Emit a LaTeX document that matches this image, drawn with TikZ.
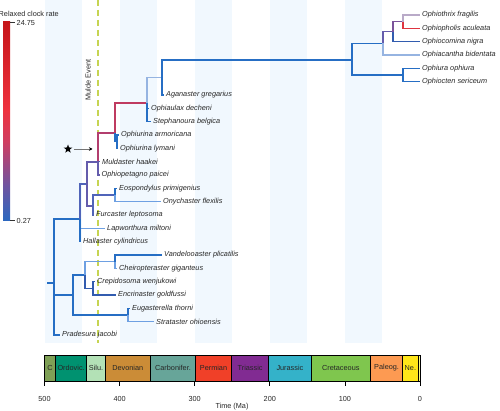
\documentclass[tikz,border=0pt]{standalone}
\usepackage{fontspec}
\setmainfont{Liberation Sans}
\usetikzlibrary{shapes.geometric,arrows.meta}
\definecolor{cblue}{RGB}{38,110,196}
\definecolor{cdblue}{RGB}{50,92,175}
\definecolor{clight}{RGB}{110,160,226}
\definecolor{cpale}{RGB}{150,180,225}
\definecolor{cpurp}{RGB}{100,92,172}
\definecolor{cpb}{RGB}{80,100,185}
\definecolor{cred}{RGB}{222,52,64}
\definecolor{credp}{RGB}{178,62,110}
\definecolor{cgp}{RGB}{185,170,200}
\definecolor{cstripe}{RGB}{241,248,254}
\definecolor{cmulde}{RGB}{198,212,82}
\definecolor{cbA}{RGB}{42,104,192}
\definecolor{cbB}{RGB}{112,84,160}
\definecolor{cbC}{RGB}{208,62,96}
\definecolor{cbD}{RGB}{238,50,62}
\definecolor{cbE}{RGB}{198,22,26}
\definecolor{pCam}{RGB}{127,160,86}
\definecolor{pOrd}{RGB}{0,146,112}
\definecolor{pSil}{RGB}{179,225,182}
\definecolor{pDev}{RGB}{203,140,55}
\definecolor{pCar}{RGB}{103,165,153}
\definecolor{pPer}{RGB}{240,64,40}
\definecolor{pTri}{RGB}{129,43,146}
\definecolor{pJur}{RGB}{52,178,201}
\definecolor{pCre}{RGB}{127,198,78}
\definecolor{pPal}{RGB}{253,154,82}
\definecolor{pNeo}{RGB}{255,230,25}
\definecolor{pQua}{RGB}{249,249,127}
\pgfdeclareverticalshading{ratebar}{100bp}{color(0bp)=(cbA); color(25bp)=(cbA); color(34bp)=(cbB); color(45bp)=(cbC); color(53bp)=(cbD); color(75bp)=(cbE); color(100bp)=(cbE)}
\tikzset{
  br/.style={line width=1.3pt},
  tip/.style={font=\fontsize{7.3}{8.5}\selectfont\itshape, anchor=west, inner xsep=2pt, inner ysep=0pt, text=black!85},
  lab/.style={font=\fontsize{7.3}{8.5}\selectfont, inner sep=0pt, text=black!85},
  per/.style={draw=black, line width=0.6pt},
  tickline/.style={draw=black, line width=0.7pt},
  muldeline/.style={draw=cmulde, line width=2pt, dash pattern=on 6pt off 4pt},
}
\begin{document}
\begin{tikzpicture}[x=1pt,y=-1pt]
\useasboundingbox (0,0) rectangle (500,411);
% background stripes (50 Ma bands)
\foreach \a/\b in {44.5/82.05,119.6/157.15,194.7/232.25,269.8/307.35,344.9/382.45}
  \fill[cstripe] (\a,0) rectangle (\b,343);
% Mulde event line
\coordinate (mtop) at (97.5,0);
\coordinate (mbot) at (97.5,343);
\path[muldeline] (mtop) -- (mbot);
\node[lab, rotate=90] (mlabel) at (88,80) {Mulde Event};

% legend
\node[lab, anchor=west] (legtitle) at (-1.5,13.5) {Relaxed clock rate};
\shade[shading=ratebar] (3,22) rectangle (10,221);
\coordinate (bt1) at (10,22.5); \coordinate (bt2) at (15,22.5);
\coordinate (bb1) at (10,220.5); \coordinate (bb2) at (15,220.5);
\draw[black!80, line width=0.5pt] (bt1) -- (bt2);
\draw[black!80, line width=0.5pt] (bb1) -- (bb2);
\node[lab, anchor=west] (lmax) at (16.5,23) {24.75};
\node[lab, anchor=west] (lmin) at (16.5,221) {0.27};

% ---- tree: internal nodes ----
\coordinate (root0) at (47,283);
\coordinate (R) at (54,283);
\coordinate (n80) at (80,219);
\coordinate (n87) at (87,184);
\coordinate (n98) at (98,162);
\coordinate (nA) at (115,133);
\coordinate (nB) at (147,103);
\coordinate (nC) at (117,141.7);
\coordinate (nD) at (162,77.5);
\coordinate (nE) at (352,60);
\coordinate (nF) at (383,43.5);
\coordinate (nH) at (393,31.7);
\coordinate (nG) at (403,21.7);
\coordinate (nI) at (403,75);
\coordinate (n93a) at (93,206);
\coordinate (nEo) at (115,195);
\coordinate (n73) at (73,295);
\coordinate (n85) at (85,275);
\coordinate (n115b) at (115,261.7);
\coordinate (n93b) at (93,288.3);
\coordinate (n128) at (128,315);

% ---- tips ----
\node[tip] (t0) at (420,15) {Ophiothrix fragilis};
\node[tip] (t1) at (420,28.3) {Ophiopholis aculeata};
\node[tip] (t2) at (420,41.7) {Ophiocomina nigra};
\node[tip] (t3) at (420,55) {Ophiacantha bidentata};
\node[tip] (t4) at (420,68.3) {Ophiura ophiura};
\node[tip] (t5) at (420,81.7) {Ophiocten sericeum};
\node[tip] (t6) at (164,95) {Aganaster gregarius};
\node[tip] (t7) at (149,108.3) {Ophiaulax decheni};
\node[tip] (t8) at (151,121.7) {Stephanoura belgica};
\node[tip] (t9) at (119,135) {Ophiurina armoricana};
\node[tip] (t10) at (118,148.3) {Ophiurina lymani};
\node[tip] (t11) at (100,161.7) {Muldaster haakei};
\node[tip] (t12) at (99.5,175) {Ophiopetagno paicei};
\node[tip] (t13) at (117,188.3) {Eospondylus primigenius};
\node[tip] (t14) at (161,201.7) {Onychaster flexilis};
\node[tip] (t15) at (94,215) {Furcaster leptosoma};
\node[tip] (t16) at (105,228.3) {Lapworthura miltoni};
\node[tip] (t17) at (81,241.7) {Hallaster cylindricus};
\node[tip] (t18) at (162,255) {Vandelooaster plicatilis};
\node[tip] (t19) at (117,268.3) {Cheiropteraster giganteus};
\node[tip] (t20) at (95,281.7) {Crepidosoma wenjukowi};
\node[tip] (t21) at (116,295) {Encrinaster goldfussi};
\node[tip] (t22) at (130,308.3) {Eugasterella thorni};
\node[tip] (t23) at (154,321.7) {Strataster ohioensis};
\node[tip] (t24) at (60,335) {Pradesura jacobi};

% ---- edges ----
\draw[br,cblue] (root0) -- (R);
\draw[br,cblue] (R) |- (n80);
\draw[br,cblue] (R) |- (n73);
\draw[br,cblue] (R) |- (t24.west);
\draw[br,cpb] (n80) |- (n87);
\draw[br,clight] (n80) |- (t16.west);
\draw[br,cblue] (n80) |- (t17.west);
\draw[br,cpurp] (n87) |- (n98);
\draw[br,cpurp] (n87) |- (n93a);
\draw[br,credp] (n98) |- (nA);
\draw[br,cpurp] (n98) |- (t11.west);
\draw[br,cpurp] (n98) |- (t12.west);
\draw[br,credp!70!cred] (nA) |- (nB);
\draw[br,cblue] (nA) |- (nC);
\draw[br,cblue] (nC) |- (t9.west);
\draw[br,cblue] (nC) |- (t10.west);
\draw[br,cpale] (nB) |- (nD);
\draw[br,cblue] (nB) |- (t7.west);
\draw[br,cblue] (nB) |- (t8.west);
\draw[br,cblue] (nD) |- (nE);
\draw[br,cblue] (nD) |- (t6.west);
\draw[br,cblue] (nE) |- (nF);
\draw[br,cblue] (nE) |- (nI);
\draw[br,cpurp] (nF) |- (nH);
\draw[br,cpale] (nF) |- (t3.west);
\draw[br,cpurp!70!credp] (nH) |- (nG);
\draw[br,cdblue, line width=1.6pt] (nH) |- (t2.west);
\draw[br,cgp] (nG) |- (t0.west);
\draw[br,cred] (nG) |- (t1.west);
\draw[br,cblue] (nI) |- (t4.west);
\draw[br,cblue] (nI) |- (t5.west);
\draw[br,cpb] (n93a) |- (nEo);
\draw[br,cpb] (n93a) |- (t15.west);
\draw[br,cblue] (nEo) |- (t13.west);
\draw[br,clight] (nEo) |- (t14.west);
\draw[br,cblue] (n73) |- (n85);
\draw[br,cblue] (n73) |- (n128);
\draw[br,clight] (n85) |- (n115b);
\draw[br,cdblue] (n85) |- (n93b);
\draw[br,cblue] (n115b) |- (t18.west);
\draw[br,clight] (n115b) |- (t19.west);
\draw[br,cdblue] (n93b) |- (t20.west);
\draw[br,cdblue] (n93b) |- (t21.west);
\draw[br,cblue] (n128) |- (t22.west);
\draw[br,clight] (n128) |- (t23.west);

% star and arrow
\node[star, star points=5, star point ratio=2.4, fill=black, minimum size=9pt, inner sep=0pt] (star) at (68,149) {};
\coordinate (arrtip) at (92.5,149);
\draw[black!55, line width=0.5pt, shorten <=3pt, -{Stealth[black, length=3.5pt, width=3.5pt]}] (star.east) -- (arrtip);

% ---- geological time scale ----
\path[per, fill=pCam] (44.5,355) rectangle (55.46,381);
\path[per, fill=pOrd] (55.46,355) rectangle (86.71,381);
\path[per, fill=pSil] (86.71,355) rectangle (105.18,381);
\path[per, fill=pDev] (105.18,355) rectangle (150.47,381);
\path[per, fill=pCar] (150.47,355) rectangle (195.53,381);
\path[per, fill=pPer] (195.53,355) rectangle (231.5,381);
\path[per, fill=pTri] (231.5,355) rectangle (268.75,381);
\path[per, fill=pJur] (268.75,355) rectangle (311.11,381);
\path[per, fill=pCre] (311.11,355) rectangle (370.43,381);
\path[per, fill=pPal] (370.43,355) rectangle (402.7,381);
\path[per, fill=pNeo] (402.7,355) rectangle (418.06,381);
\path[per, fill=pQua] (418.06,355) rectangle (420,381);
\node[lab] (pC) at (50,368) {C};
\node[lab] (pO) at (71.1,368) {Ordovic.};
\node[lab] (pS) at (96,368) {Silu.};
\node[lab] (pD) at (127.8,368) {Devonian};
\node[lab] (pCa) at (173,368) {Carbonifer.};
\node[lab] (pP) at (213.5,368) {Permian};
\node[lab] (pT) at (250.1,368) {Triassic};
\node[lab] (pJ) at (289.9,368) {Jurassic};
\node[lab] (pK) at (340.8,368) {Cretaceous};
\node[lab] (pPg) at (386.6,368) {Paleog.};
\node[lab] (pN) at (410.4,368) {Ne.};
\foreach \x/\t in {44.5/500,119.6/400,194.7/300,269.8/200,344.9/100,420/0}{
  \draw[tickline] (\x,381) -- (\x,385.5);
  \node[lab] at (\x,398.5) {\t};
}
\node[lab] (tl) at (232,407) {Time (Ma)};
\end{tikzpicture}
\end{document}
